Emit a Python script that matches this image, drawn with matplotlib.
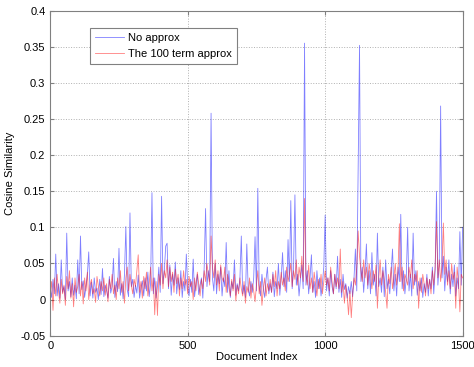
"""
Cosine similarity per document: exact vs. 100 term approximation.
Values read off the reference picture, sampled every 5 documents.
"""
import numpy as np
import matplotlib
matplotlib.use('Agg')
import matplotlib.pyplot as plt

# document index, one sample every 5 documents
doc_index = list(range(0, 1501, 5))

# cosine similarity x 1000, no approximation
no_approx = [
    15, 3, 28, 8, 63, 5, 22, 2, 55, 10,
    18, 0, 92, 12, 25, 4, 30, 6, 20, 1,
    55, 8, 88, 14, 26, 3, 18, 35, 66, 5,
    24, 2, 30, 10, 16, 0, 28, 7, 43, 4,
    20, 12, 2, 32, 9, 18, 57, 3, 25, 11,
    71, 6, 22, 1, 35, 101, 14, 4, 120, 18,
    28, 3, 20, 9, 34, 2, 16, 26, 5, 30,
    12, 38, 4, 22, 148, 8, 30, 2, 19, 45,
    10, 143, 22, 40, 74, 78, 15, 48, 6, 35,
    20, 52, 8, 30, 14, 40, 3, 25, 12, 63,
    18, 5, 28, 10, 56, 4, 22, 35, 7, 20,
    30, 2, 45, 126, 18, 40, 25, 258, 30, 12,
    50, 8, 35, 22, 45, 5, 30, 18, 79, 10,
    40, 3, 25, 15, 55, 6, 22, 12, 30, 88,
    8, 20, 3, 77, 15, 5, 25, 10, 30, 87,
    12, 154, 20, 5, 35, 15, 3, 28, 45, 8,
    22, 10, 38, 4, 25, 15, 50, 6, 30, 65,
    18, 40, 10, 83, 25, 137, 15, 45, 145, 20,
    35, 5, 28, 48, 15, 355, 20, 40, 8, 30,
    62, 10, 25, 3, 40, 15, 30, 5, 22, 45,
    117, 12, 30, 5, 40, 18, 8, 35, 15, 60,
    10, 28, 3, 35, 14, 22, 2, 18, 8, 25,
    4, 30, 70, 12, 186, 352, 25, 45, 10, 38,
    77, 15, 40, 8, 65, 20, 35, 5, 92, 18,
    30, 10, 45, 4, 55, 15, 28, 8, 38, 70,
    12, 35, 5, 45, 25, 118, 15, 40, 8, 30,
    100, 12, 35, 5, 92, 20, 40, 6, 25, 12,
    30, 3, 22, 10, 35, 5, 28, 15, 45, 8,
    40, 150, 20, 50, 268, 30, 60, 12, 45, 25,
    55, 8, 35, 18, 48, 5, 30, 15, 94, 20,
    100,
]

# cosine similarity x 1000, 100 term approximation
term100 = [
    10, 25, -15, 30, 5, 35, 12, -5, 28, 8,
    20, -8, 32, 15, 40, 2, 22, -10, 30, 10,
    18, 35, 5, 25, -6, 30, 12, 38, 0, 20,
    28, 8, 15, -4, 32, 18, 5, 25, 12, 30,
    6, 22, -3, 28, 15, 35, 8, 20, 0, 30,
    15, 40, 10, 25, -5, 30, 45, 12, 35, 20,
    8, 28, 18, 40, 62, 10, 25, 2, 32, 15,
    38, 5, 22, 45, 12, 30, -21, 25, -22, 35,
    20, 50, 15, 40, 30, 55, 18, 45, 25, 38,
    10, 42, 22, 35, 5, 30, 15, 40, 20, 28,
    8, 32, 18, 25, 0, 30, 12, 38, 22, 5,
    28, 15, 40, 25, 50, 35, 20, 88, 45, 30,
    55, 20, 40, 12, 48, 30, 25, 45, 10, 35,
    18, 5, 28, 12, 35, -2, 20, 8, 30, 15,
    5, 25, -5, 18, 10, 30, 2, 22, 12, -3,
    20, 40, 8, 25, -8, 15, 30, 5, 22, 12,
    28, 10, 35, 18, 40, 5, 25, 15, 38, 20,
    30, 12, 45, 25, 35, 50, 18, 40, 28, 55,
    20, 45, 30, 60, 25, 140, 35, 20, 48, 15,
    30, 10, 38, 22, 5, 28, 15, 35, 8, 25,
    40, 20, 30, 12, 45, 25, 8, 35, 18, 30,
    15, 70, 10, 25, -5, 20, 5, -21, 12, -25,
    8, 30, 20, 45, 95, 60, 40, 25, 55, 30,
    45, 20, 50, 35, 15, 40, 25, 48, -12, 30,
    55, 20, 40, 28, 10, -12, 35, 22, 45, 15,
    30, 50, 20, 40, 105, 25, 45, 12, 35, 28,
    20, 45, 30, 55, 15, 35, 25, 40, -12, 30,
    10, 35, 22, 5, 30, 15, 28, 8, 40, 20,
    45, 108, 30, 55, 25, 48, 106, 35, 55, 20,
    40, 15, 50, 28, 38, -12, 45, 25, -17, 35,
    30,
]

y_ticks = [-0.05, 0, 0.05, 0.1, 0.15, 0.2, 0.25, 0.3, 0.35, 0.4]
y_tick_labels = ['-0.05', '0', '0.05', '0.1', '0.15', '0.2', '0.25', '0.3', '0.35', '0.4']
x_ticks = [0, 500, 1000, 1500]

plt.rcParams['font.family'] = ['Liberation Sans', 'DejaVu Sans']

fig = plt.figure(figsize=(4.74, 3.67), dpi=100)
ax = fig.add_axes([0.106, 0.0853, 0.87, 0.8857])

x = np.array(doc_index)
ax.plot(x, np.array(no_approx) / 1000.0, color='#0000ff', alpha=0.5,
        linewidth=0.6, label='No approx')
ax.plot(x, np.array(term100) / 1000.0, color='#ff0000', alpha=0.5,
        linewidth=0.6, label='The 100 term approx')

ax.set_xlim(0, 1500)
ax.set_ylim(-0.05, 0.4)
ax.set_xticks(x_ticks)
ax.set_yticks(y_ticks)
ax.set_yticklabels(y_tick_labels)
ax.tick_params(direction='in', length=3, labelsize=8, color='#808080',
               top=True, right=True)
for s in ax.spines.values():
    s.set_color('#808080')
    s.set_linewidth(0.8)
ax.grid(True, linestyle=':', color='#b0b0b0', linewidth=0.7)

ax.set_xlabel('Document Index', fontsize=8, labelpad=1)
ax.set_ylabel('Cosine Similarity', fontsize=8, labelpad=4)

leg = ax.legend(loc='upper left', bbox_to_anchor=(0.096, 0.947), fontsize=8,
                fancybox=False, framealpha=1, edgecolor='#808080',
                handlelength=2.6, handletextpad=0.4, borderpad=0.45,
                labelspacing=0.55, borderaxespad=0)
leg.get_frame().set_linewidth(0.8)

fig.savefig('out.png', dpi=100)
